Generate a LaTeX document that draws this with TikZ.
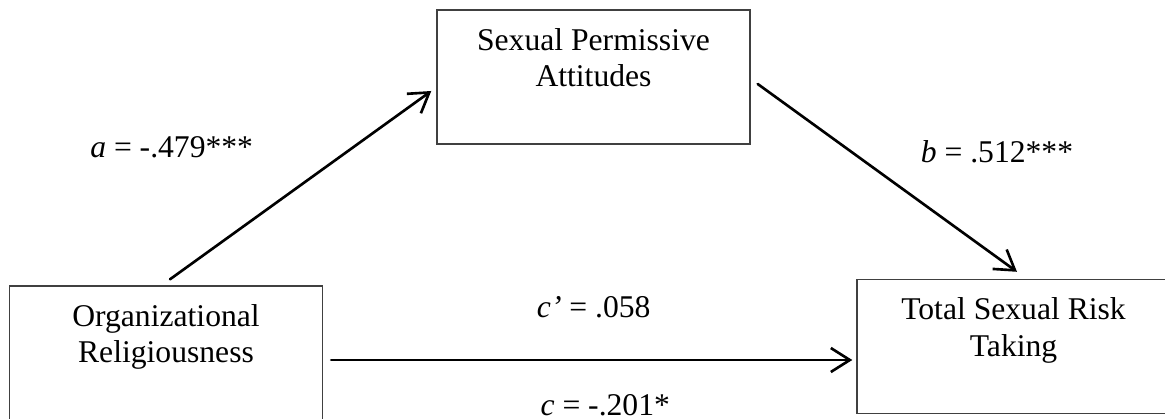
\documentclass[tikz,border=0pt]{standalone}
\usepackage{fontspec}
\setmainfont{Liberation Serif}
\usepackage{tikz}
\usetikzlibrary{arrows.meta,positioning,calc}

\tikzset{
  construct node/.style={
    rectangle,
    draw=black!75,
    line width=0.8pt,
    minimum width=6.26cm,
    minimum height=2.68cm,
    inner sep=0pt
  }
}
\tikzset{
  construct text/.style={
    align=center,
    inner sep=0pt,
    font=\fontsize{18}{21}\selectfont
  }
}
\tikzset{
  effect/.style={
    -{Straight Barb[length=3.8mm,width=4.8mm]},
    draw=black,
    line width=1.5pt,
    line cap=round
  }
}
\tikzset{
  coef label/.style={
    inner sep=0pt,
    font=\fontsize{18}{21}\selectfont
  }
}

\begin{document}
\begin{tikzpicture}

    \useasboundingbox (0,0) rectangle (23.3,-8.38);

    % ------------------------------------------------------------
    % Constructs
    % ------------------------------------------------------------

    \node[construct node] (attitudes) at (11.87,-1.54) {};

    \node[construct node] (religiousness) at (3.32,-7.06) {};

    \node[construct node] (risk) at (20.27,-6.93) {};

    % Texts sit near the top of each box
    \node[construct text, below=3.7mm of attitudes.north] (attitudes text)
    {
      Sexual Permissive\\
      Attitudes
    };

    \node[construct text, below=3.7mm of religiousness.north] (religiousness text)
    {
      Organizational\\
      Religiousness
    };

    \node[construct text, below=3.7mm of risk.north] (risk text)
    {
      Total Sexual Risk\\
      Taking
    };

    % ------------------------------------------------------------
    % Paths
    % ------------------------------------------------------------

    % a path
    \draw[effect]
      ([xshift=0.8mm,yshift=1.2mm]religiousness.north)
      --
      node[
        coef label,
        left=19.7mm,
        pos=0.70
      ] (a coef) {\textit{a} = -.479***}
      ([xshift=-1mm,yshift=-2.8mm]attitudes.west);

    % b path
    \draw[effect]
      ([xshift=1.4mm,yshift=-1.4mm]attitudes.east)
      --
      node[
        coef label,
        right=13.7mm,
        pos=0.36
      ] (b coef) {\textit{b} = .512***}
      ([xshift=0.7mm,yshift=1.4mm]risk.north);

    % direct and total effect
    \draw[effect, shorten >=0.8mm]
      ([xshift=1.6mm,yshift=-1.4mm]religiousness.east)
      --
      node[
        coef label,
        above=8.2mm,
        pos=0.50
      ] (c prime coef) {\textit{c'} = .058}
      node[
        coef label,
        below=6.6mm,
        xshift=2.3mm,
        pos=0.50
      ] (c coef) {\textit{c} = -.201*}
      ([yshift=-1.4mm]religiousness.east -| risk.west);

\end{tikzpicture}
\end{document}
